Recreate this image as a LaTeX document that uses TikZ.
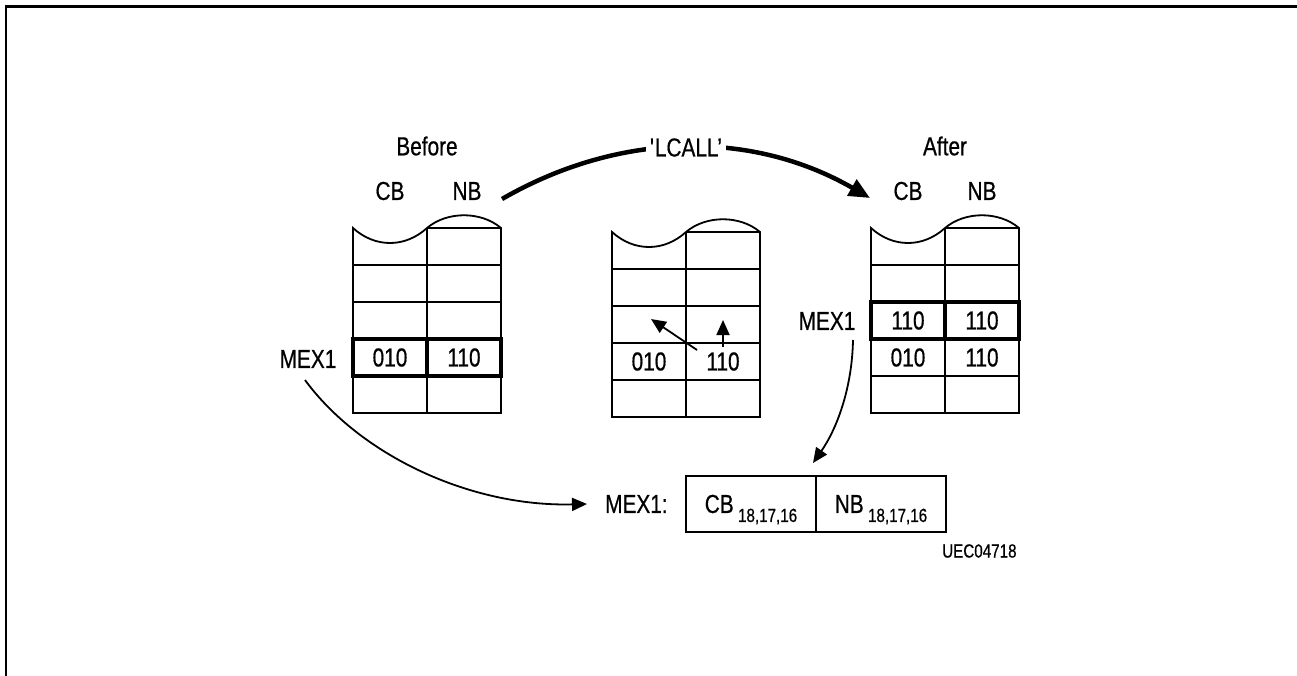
\documentclass[tikz,border=0pt]{standalone}
\usepackage{fontspec}
\setmainfont{Liberation Sans}[FakeStretch=0.8, FakeBold=0.6]
\usetikzlibrary{arrows.meta}
\newcommand\bigfont{\fontsize{26}{26}\selectfont}
\newcommand\subfont{\fontsize{19}{19}\selectfont}
\tikzset{
  grid/.style={line width=1.8pt, line join=miter},
  cell/.style={draw, line width=1.8pt, minimum width=74pt, minimum height=37pt, inner sep=0pt, font=\bigfont},
  hot/.style={cell, line width=4.5pt},
  lbl/.style={font=\bigfont, inner sep=0pt},
  boxcell/.style={draw, line width=1.8pt, minimum width=130pt, minimum height=56pt, inner sep=0pt, font=\bigfont},
  thinarrow/.style={line width=1.8pt, -{Triangle[length=15pt,width=13pt]}},
  bigarrow/.style={line width=4.5pt, -{Triangle[length=21pt,width=18pt]}},
}
\newcommand\memstack[3]{%
  \begin{scope}[shift={(#2,#3)}]
    \draw[grid] (0,37) -- (0,0) .. controls (22,20) and (52,20) .. (74,0)
      .. controls (94,-17) and (128,-17) .. (148,0) -- (148,37);
    \draw[grid] (74,0) -- (148,0) (74,0) -- (74,37);
    \foreach \r in {1,...,4}{
      \node[cell] (#1-\r-1) at (37,{37*\r+18.5}) {};
      \node[cell] (#1-\r-2) at (111,{37*\r+18.5}) {};
    }
  \end{scope}}
\begin{document}
\begin{tikzpicture}[x=1pt,y=-1pt]
\useasboundingbox (0,0) rectangle (1297,675);
\draw[line width=2.5pt] (6,700) -- (6,6.5) -- (1320,6.5);

% left stack (Before)
\memstack{L}{353}{228}
\node[lbl] (before) at (427,146) {Before};
\node[lbl] (lcb) at (390,191) {CB};
\node[lbl] (lnb) at (467,191) {NB};
\node[hot] (lh1) at (L-3-1) {010};
\node[hot] (lh2) at (L-3-2) {110};
\node[lbl] (lmex) at (308,359) {MEX1};

% middle stack
\memstack{M}{612}{232}
\node[lbl] (m1) at (M-3-1) {010};
\node[lbl] (m2) at (M-3-2) {110};
\coordinate (da) at (697,350);
\coordinate (db) at (651,319);
\coordinate (ua) at (723,347);
\coordinate (ub) at (723,320);
\draw[thinarrow] (da) -- (db);
\draw[thinarrow] (ua) -- (ub);

% right stack (After)
\memstack{R}{871}{228}
\node[lbl] (after) at (945,146) {After};
\node[lbl] (rcb) at (908,191) {CB};
\node[lbl] (rnb) at (982,191) {NB};
\node[hot] (rh1) at (R-2-1) {110};
\node[hot] (rh2) at (R-2-2) {110};
\node[lbl] (r31) at (R-3-1) {010};
\node[lbl] (r32) at (R-3-2) {110};
\node[lbl] (rmex) at (827,321) {MEX1};

% LCALL arrow
\coordinate (ls) at (502,199);
\coordinate (le) at (870,198);
\draw[bigarrow] (ls) .. controls (620,131) and (752,130) .. node[pos=0.5, fill=white, font=\bigfont, inner xsep=4pt, inner ysep=2pt] (lcall) {\textquotesingle LCALL'} (le);

% bottom register
\node[boxcell] (bcb) at (751,504) {CB\,\smash{\raisebox{-9pt}{\subfont 18,17,16}}};
\node[boxcell] (bnb) at (881,504) {NB\,\smash{\raisebox{-9pt}{\subfont 18,17,16}}};
\node[lbl, anchor=west, inner xsep=18pt] (bmex) at (587,504) {MEX1:};
\node[font=\subfont, anchor=west, inner sep=0pt] (uec) at (942,551) {UEC04718};

% MEX1 connectors
\coordinate (c1) at (305,380);
\draw[thinarrow] (c1) .. controls (360,455) and (470,507) .. (bmex.west);
\coordinate (c2) at (853,340);
\coordinate (c3) at (813,463);
\draw[thinarrow] (c2) .. controls (852,390) and (836,430) .. (c3);
\end{tikzpicture}
\end{document}
